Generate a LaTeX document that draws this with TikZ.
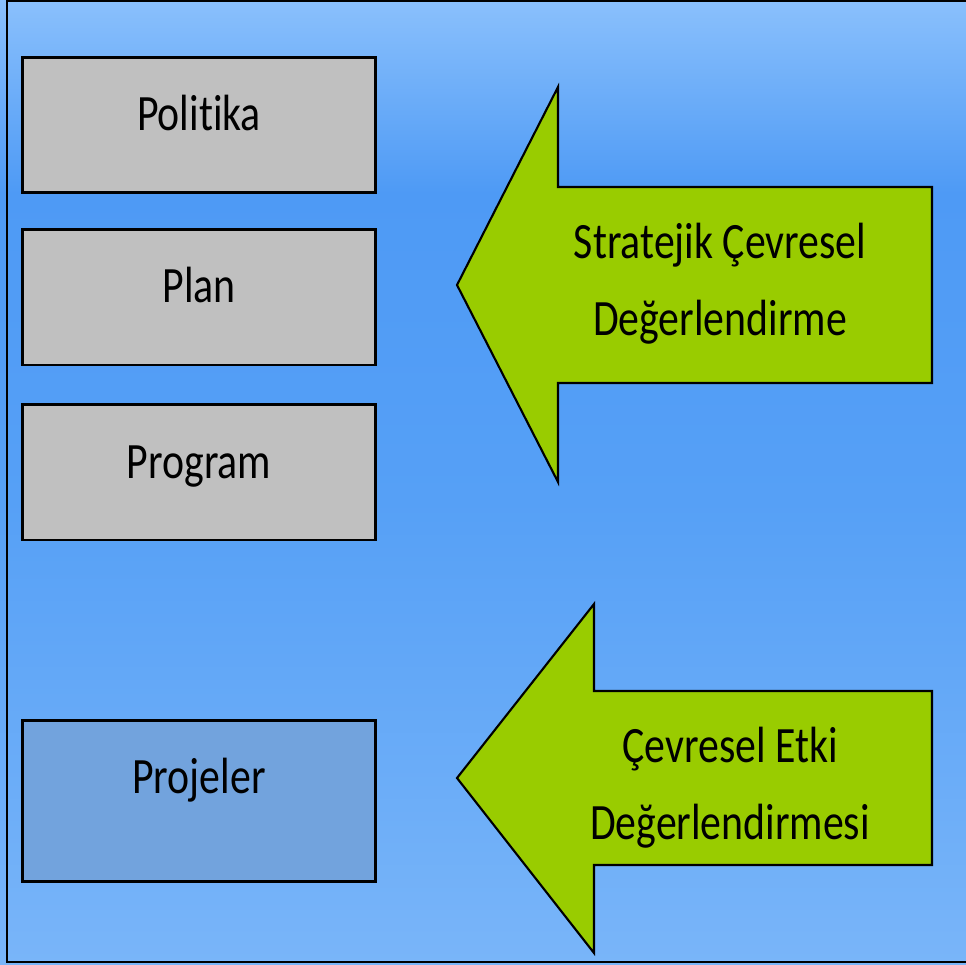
\documentclass[tikz,border=0pt]{standalone}
\usepackage{fontspec}
\setmainfont{Carlito}[FakeStretch=0.82, Ligatures=NoCommon]
\usetikzlibrary{positioning}

\definecolor{skytop}{HTML}{8AC0FC}
\definecolor{skydeep}{HTML}{4E9AF5}
\definecolor{skymid}{HTML}{56A0F6}
\definecolor{skylow}{HTML}{79B5F9}
\definecolor{cardgray}{HTML}{C0C0C0}
\definecolor{projblue}{HTML}{72A3DD}
\definecolor{leafgreen}{HTML}{99CC00}

% tikz maps the path onto 25bp..75bp of the shading
\pgfdeclareverticalshading{sky}{100bp}{color(0bp)=(skylow); color(25bp)=(skylow); color(49bp)=(skymid); color(65bp)=(skydeep); color(75bp)=(skytop); color(100bp)=(skytop)}

\tikzset{
  card/.style={draw=black, line width=1.7pt, fill=cardgray, minimum width=7.08cm, minimum height=2.72cm, inner sep=0pt},
  cardtext/.style={anchor=base, inner sep=0pt, font=\fontsize{29}{44}\selectfont},
  bigarrow/.style={draw=black, line width=1.2pt, fill=leafgreen, line join=miter},
  arrowtext/.style={align=center, inner sep=0pt, font=\fontsize{29}{44}\selectfont}
}

\begin{document}
\begin{tikzpicture}[x=0.02cm, y=-0.02cm]
    \useasboundingbox (0,0) rectangle (966,964);
    \shade[shading=sky] (0,0) rectangle (966,964);
    \draw[line width=1.2pt] (966,962) -- (7,962) -- (7,1) -- (966,1);

    % left column
    \node[card] (politika) at (199,125) {};
    \node[cardtext] (politika-t) at (199,130) {Politika};
    \node[card] (plan) at (199,297) {};
    \node[cardtext] (plan-t) at (199,302) {Plan};
    \node[card] (program) at (199,472) {};
    \node[cardtext] (program-t) at (199,478) {Program};
    \node[card, fill=projblue, minimum height=3.22cm] (projeler) at (199,801) {};
    \node[cardtext] (projeler-t) at (199,793) {Projeler};

    % arrows
    \draw[bigarrow] (457,285) -- (558,87) -- (558,187) -- (932,187) -- (932,383) -- (558,383) -- (558,482) -- cycle;
    \node[arrowtext] (sced) at (720,284) {Stratejik Çevresel\\Değerlendirme};

    \draw[bigarrow] (457,778) -- (594,604) -- (594,691) -- (932,691) -- (932,865) -- (594,865) -- (594,953) -- cycle;
    \node[arrowtext] (ced) at (730,788) {Çevresel Etki\\Değerlendirmesi};
\end{tikzpicture}
\end{document}
